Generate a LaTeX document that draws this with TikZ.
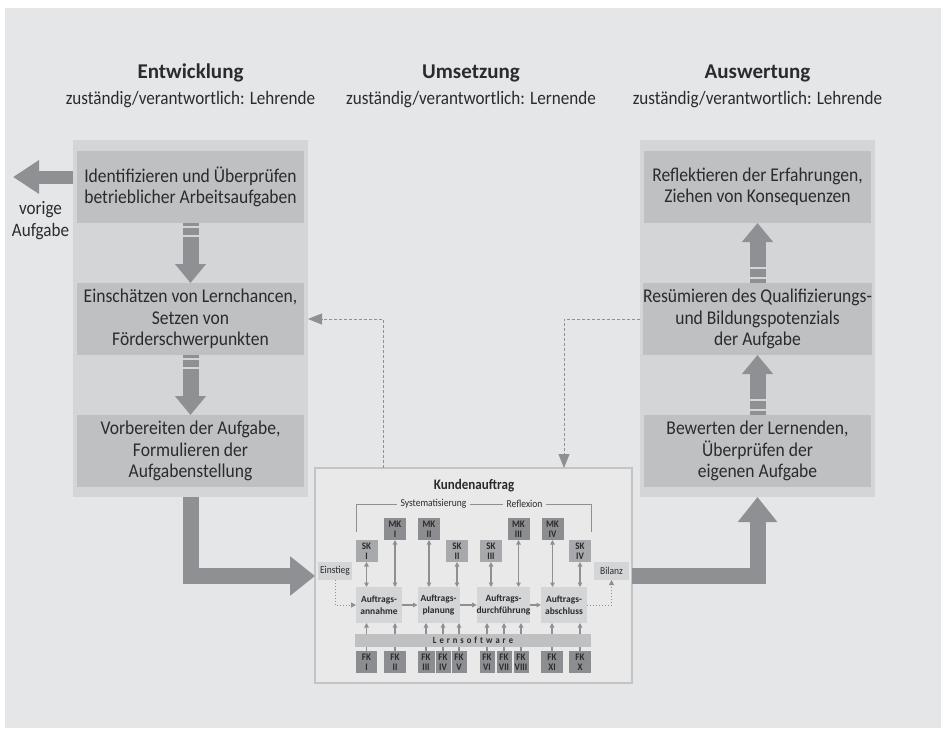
\documentclass[tikz,border=0pt]{standalone}
\usepackage{fontspec}
\setmainfont{Carlito}[FakeStretch=0.9]
\newfontfamily\widefont{Carlito}
\usetikzlibrary{arrows.meta}

\definecolor{bg}{HTML}{E5E6E8}
\definecolor{panel}{HTML}{D4D5D7}
\definecolor{boxfill}{HTML}{BFC0C2}
\definecolor{arrowgray}{HTML}{8F9093}
\definecolor{darkbox}{HTML}{8C8D90}
\definecolor{midbox}{HTML}{A8A9AC}
\definecolor{txt}{HTML}{2B2B2B}
\definecolor{kfill}{HTML}{E9E9EA}
\definecolor{kborder}{HTML}{C3C4C6}

\newcommand\fsz[2]{\fontsize{#1}{#2}\selectfont}

\tikzset{
  panelbox/.style={fill=panel, inner sep=0, outer sep=0, minimum width=235pt, minimum height=357pt},
  stepbox/.style={fill=boxfill, inner sep=0, outer sep=0, minimum width=227pt, minimum height=72pt,
    align=center, font=\fsz{19.5}{21.5}},
  ttl/.style={anchor=base, font=\widefont\bfseries\fsz{21}{24}},
  subttl/.style={anchor=base, font=\fsz{19}{22}},
  kbox/.style={draw=kborder, line width=2pt, fill=kfill, inner sep=0, outer sep=0,
    minimum width=317pt, minimum height=215pt},
  mk/.style={fill=darkbox, inner sep=0, outer sep=0, minimum width=22pt, minimum height=22pt,
    align=center, font=\bfseries\fsz{10}{10}},
  sk/.style={mk, fill=midbox},
  fk/.style={fill=darkbox, inner sep=0, outer sep=0, minimum height=22pt,
    align=center, font=\bfseries\fsz{10}{10}},
  phase/.style={fill=panel, inner sep=0, outer sep=0, minimum height=36pt,
    align=center, font=\widefont\bfseries\fsz{9.5}{12}},
  tag/.style={fill=panel, inner sep=0, outer sep=0, minimum height=18pt, font=\fsz{10.5}{12}},
  bracketlabel/.style={inner xsep=3.5pt, inner ysep=0, outer sep=0, font=\fsz{10.6}{12}},
  link/.style={draw=arrowgray, line width=1.2pt},
  dbl/.style={link, {Triangle[length=4.5pt,width=4.5pt]}-{Triangle[length=4.5pt,width=4.5pt]}},
  uparr/.style={link, -{Triangle[length=4.5pt,width=4.5pt]}},
  dotconn/.style={draw=arrowgray, line width=1pt, dotted, -{Triangle[length=5pt,width=5pt]}},
  dashconn/.style={draw=arrowgray, line width=1pt, dash pattern=on 3pt off 2pt,
    -{Triangle[length=14pt,width=11pt]}},
  stepflow/.style={draw=arrowgray, line width=16pt, -{Triangle[length=19pt,width=30pt]}},
  bigflow/.style={draw=arrowgray, line width=16pt, line join=miter, -{Triangle[length=25pt,width=38pt]}},
  backflow/.style={draw=arrowgray, line width=13pt, -{Triangle[length=26pt,width=32pt]}},
  stripe/.style={draw=panel, line width=2pt},
}

\begin{document}
\begin{tikzpicture}[x=1pt, y=-1pt, text=txt]
\useasboundingbox (0,0) rectangle (941,728);
\fill[white] (0,0) rectangle (941,728);
\fill[bg] (5,8) rectangle (941,728);

% column headings
\node[ttl] (h1) at (190.5,78) {Entwicklung};
\node[subttl] (s1) at (190.5,104) {zuständig/verantwortlich: Lehrende};
\node[ttl] (h2) at (471,78) {Umsetzung};
\node[subttl] (s2) at (471,104) {zuständig/verantwortlich: Lernende};
\node[ttl] (h3) at (757.5,78) {Auswertung};
\node[subttl] (s3) at (757.5,104) {zuständig/verantwortlich: Lehrende};

% left column
\node[panelbox] (lpanel) at (190.5,318.5) {};
\node[stepbox] (l1) at (190.5,187) {Identifizieren und Überprüfen\\betrieblicher Arbeitsaufgaben};
\node[stepbox] (l2) at (190.5,319) {Einschätzen von Lernchancen,\\Setzen von\\Förderschwerpunkten};
\node[stepbox] (l3) at (190.5,451) {Vorbereiten der Aufgabe,\\Formulieren der\\Aufgabenstellung};

% right column
\node[panelbox] (rpanel) at (757.5,318.5) {};
\node[stepbox] (r1) at (757.5,187) {Reflektieren der Erfahrungen,\\Ziehen von Konsequenzen};
\node[stepbox] (r2) at (757.5,319) {Resümieren des Qualifizierungs-\\und Bildungspotenzials\\der Aufgabe};
\node[stepbox] (r3) at (757.5,451) {Bewerten der Lernenden,\\Überprüfen der\\eigenen Aufgabe};

% arrows inside the columns
\draw[stepflow] (l1.south) -- (l2.north);
\draw[stepflow] (l2.south) -- (l3.north);
\draw[stepflow] (r3.north) -- (r2.south);
\draw[stepflow] (r2.north) -- (r1.south);
\foreach \b in {l1,l2}{
  \draw[stripe] ([xshift=-8pt,yshift=-4pt]\b.south) -- ++(16,0);
  \draw[stripe] ([xshift=-8pt,yshift=-13pt]\b.south) -- ++(16,0);
}
\foreach \b in {r2,r3}{
  \draw[stripe] ([xshift=-8pt,yshift=5pt]\b.north) -- ++(16,0);
  \draw[stripe] ([xshift=-8pt,yshift=15pt]\b.north) -- ++(16,0);
}

% previous task
\coordinate (prev) at (13,177);
\draw[backflow] (lpanel.west |- prev) -- (prev);
\node[align=center, font=\fsz{19}{22}] (prevlabel) at (40.5,221) {vorige\\Aufgabe};

% customer order block
\node[kbox] (kbox) at (473.5,575.5) {};
\node[anchor=base, font=\bfseries\fsz{14.5}{16}] (ktitle) at (474,489) {Kundenauftrag};

\node[bracketlabel] (sys) at (433.5,504) {Systematisierung};
\node[bracketlabel] (refl) at (524.5,504) {Reflexion};
\draw[draw=arrowgray, line width=0.8pt] (356,532) -- (356,504) -- (sys.west);
\draw[draw=arrowgray, line width=0.8pt] (sys.east) -- (refl.west);
\draw[draw=arrowgray, line width=0.8pt] (refl.east) -- (591,504) -- (591,532);

\node[mk] (mk1) at (395,529) {MK\\I};
\node[mk] (mk2) at (429,529) {MK\\II};
\node[mk] (mk3) at (518.5,529) {MK\\III};
\node[mk] (mk4) at (552.5,529) {MK\\IV};
\node[sk] (sk1) at (366.5,551) {SK\\I};
\node[sk] (sk2) at (457,551) {SK\\II};
\node[sk] (sk3) at (491,551) {SK\\III};
\node[sk] (sk4) at (580,551) {SK\\IV};

\node[phase, minimum width=46pt] (ann) at (379,605) {Auftrags-\\annahme};
\node[phase, minimum width=42pt] (plan) at (438.5,605) {Auftrags-\\planung};
\node[phase, minimum width=49pt] (dur) at (503.5,605) {Auftrags-\\durchführung};
\node[phase, minimum width=46pt] (abs) at (564,605) {Auftrags-\\abschluss};

\node[tag, minimum width=34pt] (ein) at (335,571) {Einstieg};
\node[tag, minimum width=35pt] (bil) at (611.5,571) {Bilanz};

\draw[uparr] (ann.east) -- (plan.west);
\draw[uparr] (plan.east) -- (dur.west);
\draw[uparr] (dur.east) -- (abs.west);
\draw[dotconn] (ein.south) |- (ann.west);
\draw[dotconn] (abs.east) -| (bil.south);

\foreach \s/\t in {sk1/ann, mk1/ann, mk2/plan, sk2/plan, sk3/dur, mk3/dur, mk4/abs, sk4/abs}
  \draw[dbl] (\s.south) -- (\s.south |- \t.north);

\node[fill=boxfill, inner sep=0, outer sep=0, minimum width=236pt, minimum height=13pt,
  font=\bfseries\fsz{9.5}{10}] (lsw) at (473,640.5)
  {L\kern3pt e\kern3pt r\kern3pt n\kern3pt s\kern3pt o\kern3pt f\kern3pt t\kern3pt w\kern3pt a\kern3pt r\kern3pt e};

\foreach \n/\x/\w/\r in {fk1/366.5/21/I, fk2/395/22/II, fk3/426/17/III, fk4/443/15/IV, fk5/459/15/V,
  fk6/487/15/VI, fk7/504/15/VII, fk8/521/15/VIII, fk9/552/22/XI, fk10/580/22/X}
  \node[fk, minimum width=\w pt] (\n) at (\x,662) {FK\\\r};

\foreach \n/\t in {fk1/ann, fk2/ann, fk3/plan, fk4/plan, fk5/plan, fk6/dur, fk7/dur, fk8/dur, fk9/abs, fk10/abs}{
  \draw[link] (\n.north) -- (\n.north |- lsw.south);
  \draw[uparr] (\n.north |- lsw.north) -- (\n.north |- \t.south);
}

% feedback links between the columns and the order block
\draw[dashconn] (383,0 |- kbox.north) |- (lpanel.east |- l2.east);
\draw[dashconn] (rpanel.west |- r2.west) -| (564,0 |- kbox.north);

% hand-over into and out of the order block
\coordinate (kin) at (315,576);
\coordinate (kout) at (632,576);
\draw[bigflow] (lpanel.south -| l3.south) |- (kin);
\draw[bigflow] (kout) -| (rpanel.south -| r3.south);
\end{tikzpicture}
\end{document}
